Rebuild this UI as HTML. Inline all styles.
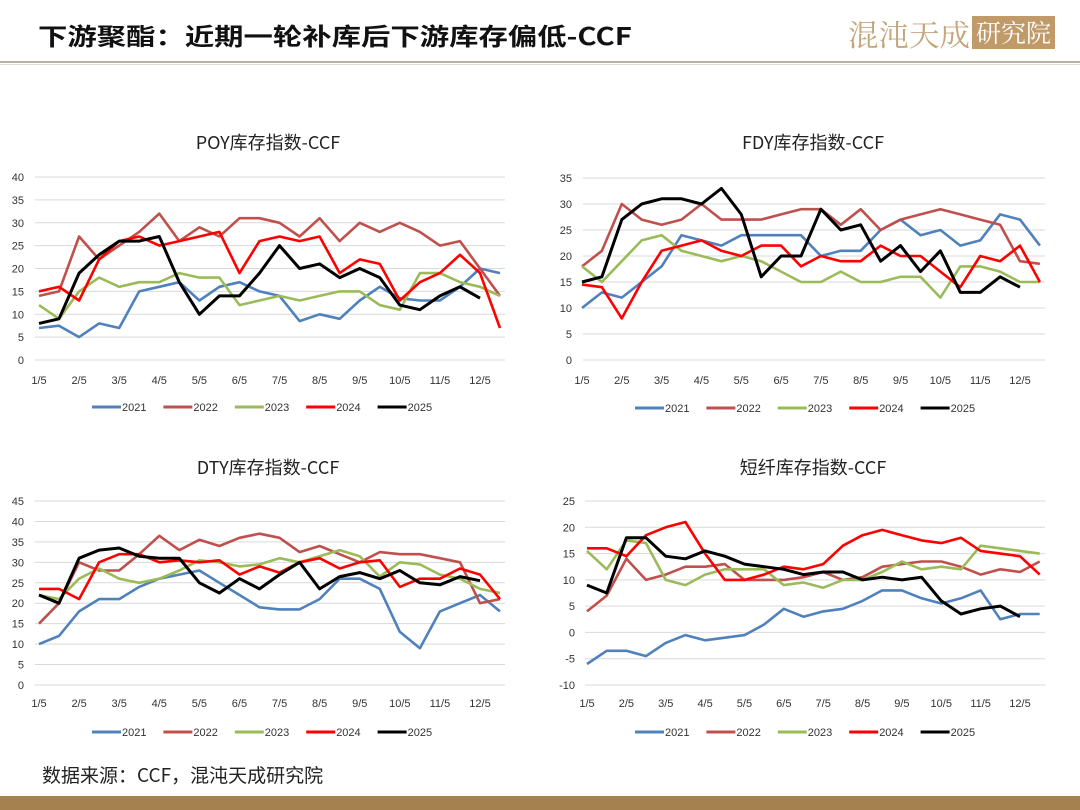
<!DOCTYPE html>
<html><head><meta charset="utf-8"><style>
html,body{margin:0;padding:0;background:#fff;}
svg{display:block;font-family:"Liberation Sans","Noto Sans CJK SC",sans-serif;}
</style></head><body>
<svg id="root" width="1080" height="810" viewBox="0 0 1080 810" xmlns="http://www.w3.org/2000/svg">
<rect x="0" y="0" width="1080" height="810" fill="#ffffff"/>
<text x="38" y="45" font-size="24" font-weight="bold" fill="#111" textLength="594" lengthAdjust="spacingAndGlyphs" font-family="'Noto Sans CJK SC',sans-serif">下游聚酯：近期一轮补库后下游库存偏低-CCF</text>
<g>
<text x="848" y="46" font-size="30" fill="#c4a57c" textLength="122" lengthAdjust="spacingAndGlyphs" font-family="'Noto Serif CJK SC',serif">混沌天成</text>
<rect x="972" y="16" width="83" height="33" fill="#c09a68"/>
<text x="976" y="42" font-size="25" fill="#fff" textLength="75" lengthAdjust="spacingAndGlyphs" font-family="'Noto Serif CJK SC',serif">研究院</text>
</g>
<rect x="0" y="61" width="1080" height="2" fill="#b8b0a4"/>
<rect x="0" y="64" width="1080" height="1" fill="#e2ddd5"/>
<text x="42" y="782" font-size="19" fill="#222" font-family="'Noto Sans CJK SC',sans-serif">数据来源：CCF，混沌天成研究院</text>
<rect x="0" y="796" width="1080" height="14" fill="#a5814f"/>
<g id="charts"></g>
</svg>
<script>
const years = ["2021","2022","2023","2024","2025"];
const monthLabels = ["1/5","2/5","3/5","4/5","5/5","6/5","7/5","8/5","9/5","10/5","11/5","12/5"];
const colors = ["#4f81bd","#c0504d","#9bbb59","#ff0000","#000000"];

const poy2021 = [7,7.5,5,8,7,15,16,17,13,16,17,15,14,8.5,10,9,13,16,13.5,13,13,16,20,19];
const poy2022 = [14,15,27,22,25,28,32,26,29,27,31,31,30,27,31,26,30,28,30,28,25,26,20,14];
const poy2023 = [12,9,15,18,16,17,17,19,18,18,12,13,14,13,14,15,15,12,11,19,19,17,16,14];
const poy2024 = [15,16,13,22,26,27,25,26,27,28,19,26,27,26,27,19,22,21,13,17,19,23,19,7];
const poy2025 = [8,9,19,23,26,26,27,17,10,14,14,19,25,20,21,18,20,18,12,11,14,16,13.5];
const poyTicks = [0,5,10,15,20,25,30,35,40];

const fdy2021 = [10,13,12,15,18,24,23,22,24,24,24,24,20,21,21,25,27,24,25,22,23,28,27,22];
const fdy2022 = [18,21,30,27,26,27,30,27,27,27,28,29,29,26,29,25,27,28,29,28,27,26,19,18.5];
const fdy2023 = [18,15,19,23,24,21,20,19,20,19,17,15,15,17,15,15,16,16,12,18,18,17,15,15];
const fdy2024 = [14.5,14,8,15,21,22,23,21,20,22,22,18,20,19,19,22,20,20,17,14,20,19,22,15];
const fdy2025 = [15,16,27,30,31,31,30,33,28,16,20,20,29,25,26,19,22,17,21,13,13,16,14];
const fdyTicks = [0,5,10,15,20,25,30,35];

const dty2021 = [10,12,18,21,21,24,26,27,28,25,22,19,18.5,18.5,21,26,26,23.5,13,9,18,20,22,18];
const dty2022 = [15,20,30,28,28,32,36.5,33,35.5,34,36,37,36,32.5,34,32,30,32.5,32,32,31,30,20,21];
const dty2023 = [22,21,26,28.5,26,25,26,28,30.5,30,29,29.5,31,30,31.5,33,31.5,26.5,30,29.5,27,26,23.5,22.5];
const dty2024 = [23.5,23.5,21,30,32,32,30,30.5,30,30.5,27,29,27.5,30,31,28.5,30,30.5,24,26,26,28.5,27,21];
const dty2025 = [22,20,31,33,33.5,31.5,31,31,25,22.5,26,23.5,27,30,23.5,26.5,27.5,26,28,25,24.5,26.5,25.5];
const dtyTicks = [0,5,10,15,20,25,30,35,40,45];

const psf2021 = [-6,-3.5,-3.5,-4.5,-2,-0.5,-1.5,-1,-0.5,1.5,4.5,3,4,4.5,6,8,8,6.5,5.5,6.5,8,2.5,3.5,3.5];
const psf2022 = [4,7,14,10,11,12.5,12.5,13,10,10,10,10.5,11.5,10,10.5,12.5,13,13.5,13.5,12.5,11,12,11.5,13.5];
const psf2023 = [15.5,12,17.5,17,10,9,11,12,12,12,9,9.5,8.5,10,10,11.5,13.5,12,12.5,12,16.5,16,15.5,15];
const psf2024 = [16,16,14.5,18.5,20,21,15,10,10,11,12.5,12,13,16.5,18.5,19.5,18.5,17.5,17,18,15.5,15,14.5,11];
const psf2025 = [9,7.5,18,18,14.5,14,15.5,14.5,13,12.5,12,11,11.5,11.5,10,10.5,10,10.5,6,3.5,4.5,5,3];
const psfTicks = [-10,-5,0,5,10,15,20,25];

const NS = "http://www.w3.org/2000/svg";
const root = document.getElementById("charts");
function mk(tag, attrs, parent){ const e=document.createElementNS(NS,tag); for(const k in attrs) e.setAttribute(k,attrs[k]); parent.appendChild(e); return e; }

function drawChart(cfg){
  const g = mk("g",{},root);
  
  
  const ymin = cfg.ticks[0], ymax = cfg.ticks[cfg.ticks.length-1];
  const yS = v => cfg.y0 + (v - ymin)/(ymax - ymin)*(cfg.y1 - cfg.y0);
  const xS = m => cfg.xm0 + m*(cfg.xm11 - cfg.xm0)/11;
  const t = mk("text",{x:cfg.titleX,y:cfg.titleY,"font-size":18,"text-anchor":"middle",fill:"#222","font-family":"'Noto Sans CJK SC',sans-serif"},g);
  t.textContent = cfg.title;
  
  
  cfg.ticks.forEach(v=>{
    const gl = mk("line",{x1:cfg.gx0,x2:cfg.gx1,y1:yS(v),y2:yS(v),stroke:"#d9d9d9","stroke-width":1},g);
    
    
    const tl = mk("text",{x:cfg.tickX,y:yS(v)+4,"font-size":11,"text-anchor":"end",fill:"#333"},g);
    tl.textContent = v;
    
    
  });
  monthLabels.forEach((lab,i)=>{
    const tl = mk("text",{x:xS(i),y:cfg.xLabY,"font-size":11,"text-anchor":"middle",fill:"#333"},g);
    tl.textContent = lab;
    
    
  });
  cfg.series.forEach((arr,si)=>{
    const pts = arr.map((v,i)=> xS(i*0.5).toFixed(1)+","+yS(v).toFixed(1)).join(" ");
    const pl = mk("polyline",{points:pts,fill:"none",stroke:colors[si],"stroke-width":si===4?3:2.6,"stroke-linejoin":"round"},g);
    
    
  });
  years.forEach((yr,si)=>{
    const lx = cfg.legX + si*71.4;
    const ll = mk("line",{x1:lx,x2:lx+29,y1:cfg.legY,y2:cfg.legY,stroke:colors[si],"stroke-width":3},g);
    
    
    const lt = mk("text",{x:lx+30,y:cfg.legY+4,"font-size":11,fill:"#333"},g);
    lt.textContent = yr;
    
    
  });
}

drawChart({name:"poy-chart",title:"POY库存指数-CCF",titleX:268,titleY:149,ticks:poyTicks,y0:360,y1:177,gx0:35,gx1:505,tickX:24,xm0:39,xm11:480,xLabY:384,legX:92,legY:407,series:[poy2021,poy2022,poy2023,poy2024,poy2025]});
drawChart({name:"fdy-chart",title:"FDY库存指数-CCF",titleX:813,titleY:149,ticks:fdyTicks,y0:360,y1:178,gx0:583,gx1:1045,tickX:572,xm0:582,xm11:1020,xLabY:384,legX:635,legY:408,series:[fdy2021,fdy2022,fdy2023,fdy2024,fdy2025]});
drawChart({name:"dty-chart",title:"DTY库存指数-CCF",titleX:268,titleY:474,ticks:dtyTicks,y0:685,y1:501,gx0:35,gx1:505,tickX:24,xm0:39,xm11:480,xLabY:707,legX:92,legY:732,series:[dty2021,dty2022,dty2023,dty2024,dty2025]});
drawChart({name:"staple-fiber-chart",title:"短纤库存指数-CCF",titleX:813,titleY:474,ticks:psfTicks,y0:685,y1:501,gx0:585,gx1:1045,tickX:575,xm0:587,xm11:1020,xLabY:707,legX:635,legY:732,series:[psf2021,psf2022,psf2023,psf2024,psf2025]});
</script>
</body></html>
